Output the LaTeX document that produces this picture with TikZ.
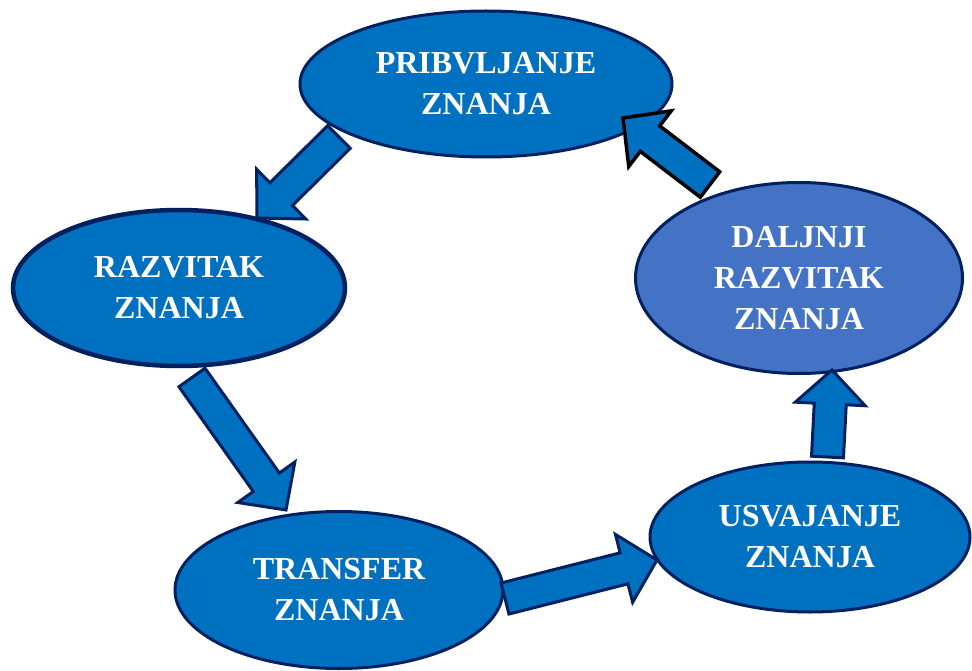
\documentclass[tikz,border=0pt]{standalone}
\usepackage{fontspec}
\setmainfont{Liberation Serif}
\usetikzlibrary{shapes.geometric,calc}
\definecolor{fillblue}{HTML}{0070C0}
\definecolor{lightblue}{HTML}{4472C4}
\definecolor{navy}{HTML}{002060}
\tikzset{
  bubble/.style={ellipse,draw=navy,fill=fillblue,line width=3pt,inner sep=0pt,
    text=white,align=center,font=\fontsize{32}{41}\selectfont\bfseries},
  blockarrow/.style={draw=navy,fill=fillblue,line width=3pt,line join=miter},
}
% #1 style, #2 tail, #3 tip
\newcommand{\blockarr}[3][]{%
  \coordinate (neck) at ($(#3)!34pt!(#2)$);
  \draw[blockarrow,#1] ($(#2)!16pt!90:(#3)$) -- ($(neck)!16pt!90:(#3)$) -- ($(neck)!35pt!90:(#3)$)
     -- (#3) -- ($(neck)!35pt!-90:(#3)$) -- ($(neck)!16pt!-90:(#3)$) -- ($(#2)!16pt!-90:(#3)$) -- cycle;
}
\begin{document}
\begin{tikzpicture}[x=1pt,y=-1pt]
\useasboundingbox (0,0) rectangle (972,671);
\node[bubble,minimum width=372pt,minimum height=146pt] (p) at (486,84) {PRIBVLJANJE\\ZNANJA};
\node[bubble,line width=4.5pt,minimum width=332pt,minimum height=156pt] (r) at (179,288) {RAZVITAK\\ZNANJA};
\node[bubble,fill=lightblue,minimum width=327pt,minimum height=191pt] (d) at (799,278) {DALJNJI\\RAZVITAK\\ZNANJA};
\node[bubble,minimum width=328pt,minimum height=157pt] (t) at (339,590) {TRANSFER\\ZNANJA};
\node[bubble,minimum width=320pt,minimum height=150pt] (u) at (810,537) {USVAJANJE\\ZNANJA};
% arrow end points
\coordinate (a1s) at (339,137); \coordinate (a1e) at (257,218);
\coordinate (a2s) at (710,184.5); \coordinate (a2e) at (623,118);
\coordinate (a3s) at (192,377.5); \coordinate (a3e) at (286,510);
\coordinate (a4s) at (505,598.5); \coordinate (a4e) at (657,560);
\coordinate (a5s) at (827.5,457); \coordinate (a5e) at (832,370);
\blockarr{a1s}{a1e}
\blockarr[draw=black,line width=3.5pt]{a2s}{a2e}
\blockarr{a3s}{a3e}
\blockarr{a4s}{a4e}
\blockarr{a5s}{a5e}
\end{tikzpicture}
\end{document}
